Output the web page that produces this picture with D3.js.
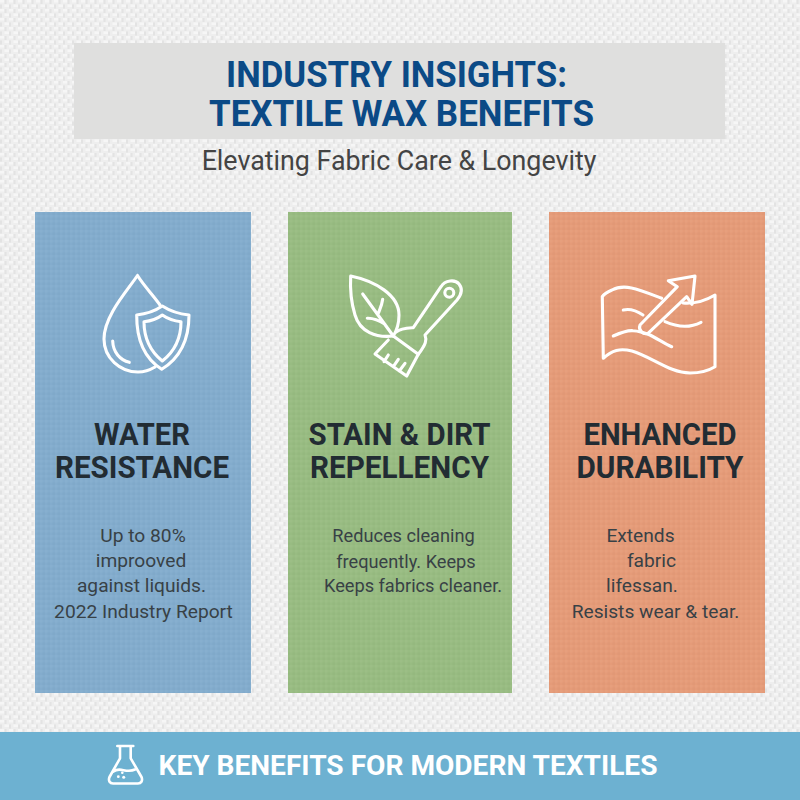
<!DOCTYPE html>
<html><head><meta charset="utf-8">
<script src="https://cdn.jsdelivr.net/npm/d3@7"></script>
<style>html,body{margin:0;padding:0;background:#eeeeec}svg{display:block}text{font-family:Roboto,sans-serif}</style>
</head><body><svg id="c" width="800" height="800" viewBox="0 0 800 800"></svg>
<script>
const titleLines = ["INDUSTRY INSIGHTS:", "TEXTILE WAX BENEFITS"];
const subtitle = "Elevating Fabric Care & Longevity";
const cardHeadings = [["WATER","RESISTANCE"],["STAIN & DIRT","REPELLENCY"],["ENHANCED","DURABILITY"]];
const cardBodies = [
  ["Up to 80%","improoved","against liquids.","2022 Industry Report"],
  ["Reduces cleaning","frequently. Keeps","Keeps fabrics cleaner."],
  ["Extends","fabric","lifessan.","Resists wear & tear."]
];
const footerText = "KEY BENEFITS FOR MODERN TEXTILES";

// layout
const cardRects = [{x:35,w:216,fill:"#83accd"},{x:288,w:224,fill:"#98bc82"},{x:549,w:216,fill:"#e59b78"}];
const titleCx = [396.5,401.5], titleY = [86.5,126], titleW = [341,385];
const headingCx = [142,399.5,660];
const headingW = [[96,174],[182,179],[153,167]];
const bodyCx = [[143,141,141.5,143.5],[403.5,406,413],[640.5,651.5,642,655.5]];
const bodyY = [[542,567,592,618],[542,568,592],[542,567,592,618]];
const bodySize = [19.2,18.2,19.2];
const icons = [
 ["M137.5,275.5C127,291 104,316 104,339C104,358 120,372 138,372C145,372 150,370 155,367M137.5,275.5C144,286 153,295 160,305",
  "M162.3,306C155,311 146,314 136.7,315C136.5,340 144,358 161.7,369.3C180,358 189,340 189,315C179,314 170,311 162.3,306Z",
  "M162.3,315C157,319 151,321 144,321.7C144,338 150,351 162.3,361C175,351 181,338 181,321.7C174,321 168,319 162.3,315Z",
  "M112.7,341C113,352 120,360 129.3,362.3"],
 ["M350.7,276C375,281 399,295 399,315C399,324 397,330 393.3,336C376,338 360,332 355,315C351,302 350,288 350.7,276Z",
  "M362.7,294L393.3,336M382.7,299.3C382,305 380,309 378.3,313.3M367.3,318.3C374,318 380,321 385,324.3",
  "M396,332C401,328 407,328 413.3,327.7L441,286.7C445,280 455,279 459,284C463,289 462,294 457,300L425,335C427,340 426,344 418.3,354.3L393.3,336",
  "M388.3,340L375,354L406.7,376L418.3,354.3M388.3,355L384,361.7M398.3,359.3L393.3,366.7M405,363.3L399.3,371",
  "M453.8,292.7A4.5,4.5 0 1 1 444.8,292.7A4.5,4.5 0 1 1 453.8,292.7Z"],
 ["M661.7,298.3C640,290 625,283 612,290C607,292 604,294 602.3,296.7L603.3,358.3C612,350 620,348 632,351C652,357 670,373 690,373C700,373 708,371 715,366.7L715,295C705,301 695,304 683,303",
  "M695,276L668.3,280.7L677.3,286.7L640,325C638,330 643,335 648,333.3L686.7,296.7L692,304.3Z",
  "M623.3,310C631,308 637,311 643,315M665,321.7C677,327 690,328 701,322.3M613.3,336C620,333 627,330 633,330.7C640,331 645,333 650,335C658,339 665,344 671.7,346.7"]
];
const flask = ["M117.3,746L133.3,746M120,746.5L120,758.3L109.5,777C108,781 110,783.5 113,783.5L138,783.5C141,783.5 143,781 141.5,777L130.7,758.3L130.7,746.5",
               "M113.5,771.5C120,766 126,774 135,769.5"];
const bubbles = [[122.3,772.7,1.3],[118.3,776.7,1.4],[123.7,777.3,1.5]];

const svg = d3.select("#c");
const defs = svg.append("defs");
defs.append("filter").attr("id","soft").attr("x",0).attr("y",0).attr("width",1).attr("height",1)
  .append("feGaussianBlur").attr("stdDeviation",0.6);

// woven paper tile
const bg = defs.append("pattern").attr("id","weave").attr("width",9).attr("height",9).attr("patternUnits","userSpaceOnUse");
bg.append("rect").attr("width",9).attr("height",9).attr("fill","#eeeeee");
[[0,0,4.5,2.5],[4.5,4.5,4.5,2.5]].forEach(r=>bg.append("rect").attr("x",r[0]).attr("y",r[1]).attr("width",r[2]).attr("height",r[3]).attr("fill","#f6f6f6"));
[[4.5,0,2,4],[0,4.5,2,4]].forEach(r=>bg.append("rect").attr("x",r[0]).attr("y",r[1]).attr("width",r[2]).attr("height",r[3]).attr("fill","#e3e3e3"));
const fine = defs.append("pattern").attr("id","fine").attr("width",5).attr("height",5).attr("patternUnits","userSpaceOnUse");
fine.append("rect").attr("width",2.5).attr("height",2.5).attr("fill","#fff").attr("opacity",.035);
fine.append("rect").attr("x",2.5).attr("y",2.5).attr("width",2.5).attr("height",2.5).attr("fill","#000").attr("opacity",.02);

svg.append("rect").attr("x",-4).attr("y",-4).attr("width",808).attr("height",808).attr("fill","url(#weave)").attr("filter","url(#soft)");
svg.append("rect").attr("x",74).attr("y",43).attr("width",651).attr("height",96).attr("fill","#dfdfde");

svg.selectAll("text.title").data(titleLines).join("text").attr("class","title")
  .attr("x",(d,i)=>titleCx[i]).attr("y",(d,i)=>titleY[i])
  .attr("textLength",(d,i)=>titleW[i]).attr("lengthAdjust","spacingAndGlyphs")
  .attr("text-anchor","middle").attr("font-size",37.5).attr("font-weight",700).attr("fill","#0b4a86").text(d=>d);
svg.append("text").attr("x",399).attr("y",170).attr("text-anchor","middle").attr("font-size",26.8).attr("fill","#444").text(subtitle);

const cards = svg.selectAll("g.card").data(cardRects).join("g").attr("class","card");
cards.append("rect").attr("x",d=>d.x).attr("y",212).attr("width",d=>d.w).attr("height",481).attr("fill",d=>d.fill);
cards.append("rect").attr("x",d=>d.x).attr("y",212).attr("width",d=>d.w).attr("height",481).attr("fill","url(#fine)");

cards.each(function(d,i){
  const g = d3.select(this);
  g.selectAll("path.icon").data(icons[i]).join("path").attr("class","icon").attr("d",p=>p)
    .attr("fill","none").attr("stroke","#fff").attr("stroke-width",3.1).attr("stroke-linejoin","round").attr("stroke-linecap","round");
  g.selectAll("text.h").data(cardHeadings[i]).join("text").attr("class","h")
    .attr("x",headingCx[i]).attr("y",(t,j)=>445+j*33).attr("text-anchor","middle")
    .attr("textLength",(t,j)=>headingW[i][j]).attr("lengthAdjust","spacingAndGlyphs")
    .attr("font-size",30.5).attr("font-weight",700).attr("fill","#222c33").text(t=>t);
  g.selectAll("text.b").data(cardBodies[i]).join("text").attr("class","b")
    .attr("x",(t,j)=>bodyCx[i][j]).attr("y",(t,j)=>bodyY[i][j]).attr("text-anchor","middle")
    .attr("font-size",bodySize[i]).attr("fill","#384146").text(t=>t);
});

svg.append("rect").attr("x",0).attr("y",732).attr("width",800).attr("height",68).attr("fill","#6db1d1");
svg.selectAll("path.flask").data(flask).join("path").attr("class","flask").attr("d",d=>d)
  .attr("fill","none").attr("stroke","#fff").attr("stroke-width",2.6).attr("stroke-linejoin","round").attr("stroke-linecap","round");
svg.selectAll("circle.bub").data(bubbles).join("circle").attr("class","bub")
  .attr("cx",d=>d[0]).attr("cy",d=>d[1]).attr("r",d=>d[2]).attr("fill","#fff");
svg.append("text").attr("x",408).attr("y",775).attr("text-anchor","middle").attr("font-size",28.1).attr("font-weight",700).attr("fill","#fff").text(footerText);
</script></body></html>
